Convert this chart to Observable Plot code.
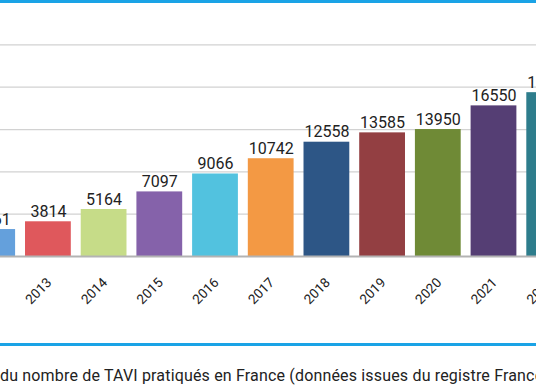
<!DOCTYPE html>
<html>
<head>
<meta charset="utf-8">
<script src="https://cdn.jsdelivr.net/npm/d3@7"></script>
<script src="https://cdn.jsdelivr.net/npm/@observablehq/plot@0.6"></script>
<style>
  html, body { margin: 0; padding: 0; background: #fff; }
  body { width: 536px; height: 386px; overflow: hidden; position: relative; font-family: Roboto, sans-serif; }
  #topline { position: absolute; left: 0; top: 0; width: 536px; height: 3px; background: #1aa3e6; z-index: 2; }
  #bottomline { position: absolute; left: 0; top: 343px; width: 536px; height: 2.5px; background: #1aa3e6; z-index: 2; }
  #chart { position: absolute; left: -52px; top: 0; width: 640px; height: 340px; }
  #chart svg { max-width: none !important; width: 640px; height: 340px; }
  #caption { position: absolute; left: 0; top: 368px; white-space: nowrap; font-size: 16px; line-height: 16px; letter-spacing: 0.17px; color: #222; }
</style>
</head>
<body>
<div id="topline"></div>
<div id="chart"></div>
<div id="bottomline"></div>
<div id="caption">du nombre de TAVI pratiqués en France (données issues du registre France TAVI)</div>
<script>
const years  = [2012, 2013, 2014, 2015, 2016, 2017, 2018, 2019, 2020, 2021, 2022];
const values = [2961, 3814, 5164, 7097, 9066, 10742, 12558, 13585, 13950, 16550, 18000];
const colors = ["#64a0dc", "#df585c", "#c6dc88", "#8562aa", "#52c2df", "#f39944",
                "#2d5686", "#933f42", "#6f8a36", "#553e74", "#2e7d8c"];
const gridTicks = [4650, 9300, 13950, 18600, 23250];

const data = years.map((year, i) => ({year, value: values[i], color: colors[i]}));

const chart = Plot.plot({
  width: 640,
  height: 340,
  marginTop: 44.4,
  marginBottom: 84,
  marginLeft: 0,
  marginRight: 0,
  style: {fontFamily: "Roboto, sans-serif", color: "#222", background: "transparent"},
  x: {type: "band", domain: years, range: [11.4, 634], padding: 0.178, round: false, axis: null},
  y: {domain: [0, 23250], axis: null},
  color: {type: "identity"},
  marks: [
    Plot.ruleY(gridTicks, {stroke: "#d2d2d2", strokeWidth: 1.3}),
    Plot.barY(data, {x: "year", y: "value", fill: "color"}),
    Plot.ruleY([0], {stroke: "#b3b3b3", strokeWidth: 2}),
    Plot.text(data, {x: "year", y: "value", text: d => String(d.value), dy: -5,
      lineAnchor: "bottom", fontSize: 16, fill: "#222"}),
    Plot.text(data, {x: "year", frameAnchor: "bottom", text: d => String(d.year),
      rotate: -45, textAnchor: "end", lineAnchor: "bottom", dx: 4, dy: 27,
      fontSize: 13.5, fill: "#222"})
  ]
});
document.getElementById("chart").appendChild(chart);
</script>
</body>
</html>
